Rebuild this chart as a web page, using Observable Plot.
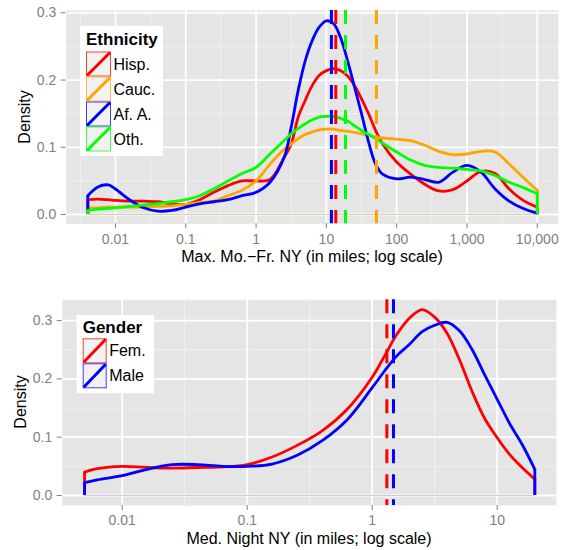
<!DOCTYPE html>
<html><head><meta charset="utf-8">
<script src="https://cdn.jsdelivr.net/npm/d3@7"></script>
<script src="https://cdn.jsdelivr.net/npm/@observablehq/plot@0.6"></script>
<style>
body{margin:0;background:#fff;font-family:"Liberation Sans",Arial,sans-serif;}
#chart{width:567px;height:550px;}
#chart svg{display:block;}
</style></head><body><div id="chart"></div>
<script>
// ---------- Top panel data (Max. Mo.-Fr. NY, miles) ----------
const topX = [0.00404,0.00562,0.00794,0.01,0.0158,0.0251,0.0398,0.0631,0.1,0.158,0.251,0.398,0.631,1,1.58,2.51,3.16,3.98,5.01,6.31,7.94,10,12.6,15.8,20,25.1,31.6,39.8,50.1,63.1,100,158,251,398,631,1000,1585,2512,3981,6310,10000];
const hisp = [0.022,0.023,0.022,0.021,0.020,0.020,0.019,0.016,0.015,0.022,0.033,0.043,0.050,0.050,0.052,0.085,0.105,0.145,0.170,0.192,0.207,0.214,0.217,0.214,0.206,0.192,0.172,0.150,0.125,0.105,0.078,0.060,0.045,0.035,0.037,0.050,0.064,0.061,0.038,0.021,0.011];
const cauc = [0.010,0.010,0.011,0.011,0.011,0.011,0.012,0.013,0.015,0.018,0.020,0.028,0.036,0.050,0.075,0.097,0.105,0.113,0.119,0.123,0.126,0.127,0.127,0.125,0.124,0.122,0.120,0.118,0.115,0.114,0.112,0.110,0.103,0.094,0.089,0.090,0.094,0.093,0.075,0.055,0.036];
const afa  = [0.028,0.041,0.044,0.038,0.022,0.010,0.005,0.006,0.011,0.016,0.019,0.022,0.028,0.033,0.048,0.085,0.130,0.185,0.229,0.259,0.279,0.288,0.284,0.264,0.229,0.190,0.150,0.108,0.075,0.060,0.053,0.0555,0.052,0.048,0.063,0.073,0.063,0.038,0.020,0.009,0.002];
const oth  = [0.006,0.008,0.009,0.010,0.012,0.014,0.016,0.019,0.022,0.028,0.038,0.050,0.061,0.070,0.090,0.110,0.120,0.128,0.135,0.141,0.145,0.146,0.146,0.143,0.139,0.132,0.125,0.119,0.113,0.106,0.093,0.081,0.073,0.070,0.069,0.067,0.065,0.058,0.048,0.040,0.031];
const ethNames = ["Hisp.","Cauc.","Af. A.","Oth."];
const ethColors = ["#ff0000","#ffa500","#0000ff","#00ff00"];
const ethMedians = [13.6, 51.6, 11.8, 18.7];
const topTicksX = [0.01,0.1,1,10,100,1000,10000];
const topMinorX = [0.00316,0.0316,0.316,3.16,31.6,316,3162];
const ticksY = [0,0.1,0.2,0.3];
const minorY = [0.05,0.15,0.25];

// ---------- Bottom panel data (Med. Night NY, miles) ----------
const botX = [0.005,0.00631,0.01,0.0158,0.0251,0.0398,0.0631,0.1,0.158,0.251,0.398,0.631,1,1.26,1.58,2.0,2.51,3.16,3.98,5.01,6.31,7.94,10,12.6,15.8,20];
const fem  = [0.040,0.046,0.050,0.048,0.047,0.048,0.049,0.053,0.066,0.086,0.111,0.148,0.203,0.240,0.277,0.305,0.319,0.306,0.278,0.232,0.178,0.132,0.099,0.070,0.048,0.028];
const male = [0.022,0.027,0.034,0.045,0.053,0.053,0.050,0.050,0.054,0.069,0.094,0.130,0.185,0.214,0.240,0.260,0.281,0.292,0.297,0.282,0.250,0.207,0.165,0.123,0.088,0.045];
const genNames = ["Fem.","Male"];
const genColors = ["#ff0000","#0000ff"];
const genMedians = [1.31, 1.48];
const botTicksX = [0.01,0.1,1,10];
const botMinorX = [0.0316,0.316,3.16];

const GREY = "#7f7f7f";
const FONT = "Liberation Sans, Arial, sans-serif";

function panel({xs, valuesList, colors, medians, ticksX, minorX, xDomain, yDomain, margins, baseColor}) {
  const marks = [
    Plot.frame({fill: "#e5e5e5", stroke: null}),
    Plot.ruleX(minorX, {stroke: "#f2f2f2", strokeWidth: 0.9}),
    Plot.ruleY(minorY, {stroke: "#f2f2f2", strokeWidth: 0.9}),
    Plot.ruleX(ticksX, {stroke: "white", strokeWidth: 1.8}),
    Plot.ruleY(ticksY, {stroke: "white", strokeWidth: 1.8}),
    Plot.ruleY([0], {x1: () => xs[0], x2: () => xs[xs.length - 1], stroke: baseColor, strokeWidth: 1.2})
  ];
  valuesList.forEach((vals, k) => {
    const pts = xs.map((x, i) => ({x, y: vals[i]}));
    const c = colors[k];
    marks.push(Plot.ruleX([pts[0], pts[pts.length - 1]], {x: "x", y1: 0, y2: "y", stroke: c, strokeWidth: 2.8}));
    marks.push(Plot.line(pts, {x: "x", y: "y", stroke: c, strokeWidth: 2.8, curve: "catmull-rom", strokeLinejoin: "round"}));
  });
  medians.forEach((m, k) => {
    marks.push(Plot.ruleX([m], {stroke: colors[k], strokeWidth: 3, strokeDasharray: "14,11"}));
  });
  marks.push(Plot.axisX(ticksX, {tickFormat: d3.format(","), tickSize: 5, tickPadding: 5, fontSize: 14, label: null}));
  marks.push(Plot.axisY(ticksY, {tickFormat: d3.format(".1f"), tickSize: 5, tickPadding: 5, fontSize: 14, label: null}));
  return Plot.plot({
    width: 567, height: 275,
    ...margins,
    style: {fontFamily: FONT, color: GREY, background: "white", overflow: "visible"},
    x: {type: "log", domain: xDomain, axis: null},
    y: {domain: yDomain, axis: null},
    marks
  });
}

function decorate(svgNode, {xTitle, xTitleX, xTitleY, yTitleX, yTitleY, legend}) {
  const svg = d3.select(svgNode);
  svg.append("text").attr("x", xTitleX).attr("y", xTitleY)
    .attr("text-anchor", "middle").attr("dominant-baseline", "central")
    .attr("font-family", FONT).attr("font-size", 16).attr("fill", "#000").text(xTitle);
  svg.append("text").attr("transform", `translate(${yTitleX},${yTitleY}) rotate(-90)`)
    .attr("text-anchor", "middle").attr("dominant-baseline", "central")
    .attr("font-family", FONT).attr("font-size", 16).attr("fill", "#000").text("Density");
  const L = legend;
  const g = svg.append("g").attr("text-anchor", "start");
  g.append("rect").attr("x", L.x).attr("y", L.y).attr("width", L.w).attr("height", L.h).attr("fill", "white");
  g.append("text").attr("x", L.kx).attr("y", L.titleY).attr("dominant-baseline", "central").attr("text-anchor", "start")
    .attr("font-family", FONT).attr("font-size", 17).attr("font-weight", "bold").attr("fill", "#000").text(L.title);
  L.names.forEach((n, i) => {
    const y0 = L.ky + i * L.kh;
    g.append("rect").attr("x", L.kx + 0.5).attr("y", y0 + 0.5).attr("width", L.kw - 1).attr("height", L.kh - 1)
      .attr("fill", "#f2f2f2").attr("stroke", L.colors[i]).attr("stroke-opacity", 0.75).attr("stroke-width", 1);
    g.append("line").attr("x1", L.kx + 1).attr("y1", y0 + L.kh - 1).attr("x2", L.kx + L.kw - 1).attr("y2", y0 + 1)
      .attr("stroke", L.colors[i]).attr("stroke-width", 3);
    g.append("text").attr("x", L.kx + L.kw + 2.5).attr("y", y0 + L.kh / 2).attr("dominant-baseline", "central").attr("text-anchor", "start")
      .attr("font-family", FONT).attr("font-size", 16).attr("fill", "#000").text(n);
  });
}

const chart = document.getElementById("chart");

const topSvg = panel({
  xs: topX, valuesList: [hisp, cauc, afa, oth], colors: ethColors, medians: ethMedians,
  ticksX: topTicksX, minorX: topMinorX,
  xDomain: [Math.pow(10, -2.701), Math.pow(10, 4.302)], yDomain: [-0.0138, 0.3034],
  margins: {marginTop: 10, marginBottom: 51.7, marginLeft: 65.7, marginRight: 9},
  baseColor: "#d6d0a8"
});
decorate(topSvg, {
  xTitle: "Max. Mo.\u2212Fr. NY (in miles; log scale)", xTitleX: 312, xTitleY: 256,
  yTitleX: 24, yTitleY: 117,
  legend: {x: 80, y: 26, w: 83, h: 130, title: "Ethnicity", titleY: 39.5, kx: 86, ky: 51.5, kw: 25, kh: 25, names: ethNames, colors: ethColors}
});
chart.appendChild(topSvg);

const botSvg = panel({
  xs: botX, valuesList: [fem, male], colors: genColors, medians: genMedians,
  ticksX: botTicksX, minorX: botMinorX,
  xDomain: [Math.pow(10, -2.48), Math.pow(10, 1.4744)], yDomain: [-0.01715, 0.3357],
  margins: {marginTop: 24.3, marginBottom: 45, marginLeft: 61.7, marginRight: 11},
  baseColor: "#dcc0ea"
});
decorate(botSvg, {
  xTitle: "Med. Night NY (in miles; log scale)", xTitleX: 309, xTitleY: 263,
  yTitleX: 20, yTitleY: 127,
  legend: {x: 76.7, y: 40, w: 77.3, h: 78.3, title: "Gender", titleY: 52.3, kx: 82.7, ky: 63.3, kw: 24, kh: 25, names: genNames, colors: genColors}
});
chart.appendChild(botSvg);
</script>
</body></html>
